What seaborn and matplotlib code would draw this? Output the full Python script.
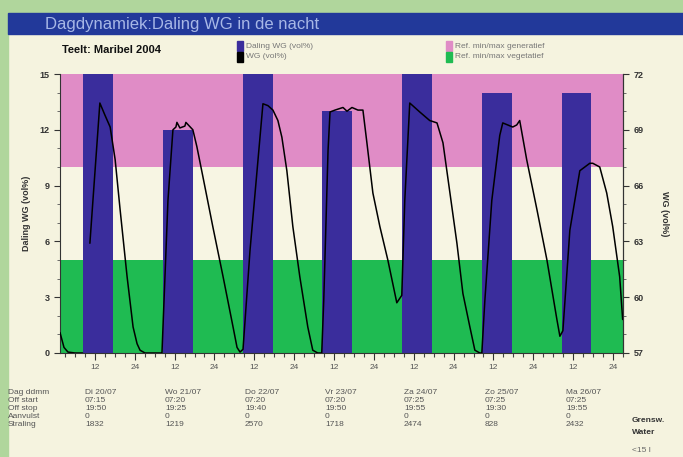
import numpy as np
import pandas as pd
import matplotlib
matplotlib.use("Agg")
import matplotlib.pyplot as plt
from matplotlib.patches import Rectangle
from matplotlib.ticker import MultipleLocator, FixedLocator
import seaborn as sns

# ---------------- data ----------------
bar_hours = [13, 37, 61, 85, 109, 133, 157]          # centre of each daily bar (hours)
bar_values = [15, 12, 15, 13, 15, 14, 14]             # Daling WG (vol%)

wg_hours = [1.5, 2.7, 3.9, 6.0, 8.3,
            10.5, 13.5, 15.0, 16.6, 18.1, 19.6, 21.7, 23.5, 24.7, 25.6, 27.1, 31.9,
            32.2, 34.0, 35.5, 36.4, 36.7, 37.6, 39.1, 39.4, 41.5, 42.7, 44.5, 47.5, 50.6, 53.6, 54.8, 55.7,
            56.6, 58.7, 62.6, 64.1, 65.6, 67.1, 68.3, 69.8, 71.6, 73.7, 76.1, 77.6, 79.1,
            80.3, 80.9, 82.2, 82.8, 84.3, 86.7, 87.9, 89.4, 91.2, 92.7,
            93.9, 95.7, 97.8, 100.2, 102.9,
            104.4, 105.3, 106.8, 109.8, 112.8, 115.0, 116.8, 118.9, 121.0, 122.8, 124.9, 126.4, 127.9,
            128.5, 129.4, 131.5, 133.9, 134.8, 136.3, 137.8, 139.0, 139.9,
            142.0, 145.1, 148.1, 151.1, 152.0,
            152.9, 155.0, 158.0, 161.0, 161.9, 164.0, 166.1, 167.9, 170.0, 170.9]
wg_values = [58.1, 57.3, 57.05, 57.0, 57.0,
             62.9, 70.44, 69.8, 69.15, 67.4, 64.7, 61.1, 58.4, 57.5, 57.15, 57.0, 57.0,
             57.0, 65.2, 69.0, 69.15, 69.4, 69.1, 69.2, 69.4, 69.0, 68.1, 66.5, 63.8, 61.1, 58.4, 57.3, 57.05,
             57.2, 62.5, 70.4, 70.3, 70.06, 69.5, 68.6, 66.8, 63.8, 61.1, 58.4, 57.15, 57.0,
             57.0, 59.8, 67.9, 69.96, 70.06, 70.2, 70.0, 70.2, 70.06, 70.06,
             68.3, 65.6, 63.8, 62.0, 59.7,
             60.1, 65.2, 70.44, 69.96, 69.5, 69.37, 68.3, 65.6, 62.9, 60.2, 58.4, 57.15, 57.0,
             57.0, 59.8, 65.2, 68.7, 69.37, 69.26, 69.15, 69.26, 69.5,
             67.4, 64.7, 62.0, 58.8, 57.9,
             58.2, 63.6, 66.8, 67.2, 67.2, 67.0, 65.6, 63.8, 61.1, 58.8]
wg_segment = [1] * 5 + [2] * (len(wg_hours) - 5)

x_tick_hours = [12 + 12 * i for i in range(14)]
x_tick_labels = ["12", "24"] * 7

table_rows = ["Dag ddmm", "Off start", "Off stop", "Aanvulst", "Straling"]
table_days = ["Di 20/07", "Wo 21/07", "Do 22/07", "Vr 23/07", "Za 24/07", "Zo 25/07", "Ma 26/07"]
table_off_start = ["07:15", "07:20", "07:20", "07:20", "07:25", "07:25", "07:25"]
table_off_stop = ["19:50", "19:25", "19:40", "19:50", "19:55", "19:30", "19:55"]
table_aanvulst = ["0", "0", "0", "0", "0", "0", "0"]
table_straling = ["1832", "1219", "2570", "1718", "2474", "828", "2432"]

# ---------------- style ----------------
sns.set_theme(style="white")
plt.rcParams["font.family"] = ["Liberation Sans", "DejaVu Sans"]

W, H = 683, 457
fig = plt.figure(figsize=(W / 100, H / 100), dpi=100)
fig.patch.set_facecolor("#f5f3df")

def fx(x):
    return x / W

def fy(y):
    return 1 - y / H

# green border and title bar
fig.patches.append(Rectangle((0, fy(13)), 1, 13 / H, transform=fig.transFigure,
                             color="#b0d69c", zorder=0))
fig.patches.append(Rectangle((0, 0), fx(8), 1, transform=fig.transFigure,
                             color="#b0d69c", zorder=0))
fig.patches.append(Rectangle((fx(8), fy(34)), 1, 21 / H, transform=fig.transFigure,
                             color="#22399a", zorder=0))
fig.text(fx(45), fy(24), "Dagdynamiek:Daling WG in de nacht", color="#a7b7e6",
         fontsize=12, va="center", ha="left")

BLUE = "#3a2d9c"
PINK = "#e08cc6"
GREEN = "#1fbb52"
CREAM = "#f7f5e3"

ax = fig.add_axes([fx(60), fy(353), fx(623) - fx(60), (353 - 74) / H])
ax.set_facecolor(CREAM)
ax.axhspan(10, 15, color=PINK, zorder=0, lw=0)
ax.axhspan(0, 5, color=GREEN, zorder=0, lw=0)

bars = pd.DataFrame({"hour": bar_hours, "daling": bar_values})
sns.barplot(data=bars, x="hour", y="daling", native_scale=True, width=9 / 24,
            color=BLUE, saturation=1, edgecolor="none", linewidth=0, ax=ax, zorder=2)

ax.set_xlim(1.5, 171)
ax.set_ylim(0, 15)
ax.set_xlabel("")
ax.set_ylabel("Daling WG (vol%)", fontsize=6.5, fontweight="bold", color="#333333", labelpad=6)
ax.yaxis.set_major_locator(FixedLocator([0, 3, 6, 9, 12, 15]))
ax.yaxis.set_minor_locator(MultipleLocator(1))
ax.xaxis.set_major_locator(FixedLocator(x_tick_hours))
ax.set_xticklabels(x_tick_labels)
ax.xaxis.set_minor_locator(MultipleLocator(3))
ax.tick_params(axis="x", which="major", length=5, width=0.8, color="#333333",
               labelsize=6, labelcolor="#555555", pad=3, direction="out", bottom=True)
ax.tick_params(axis="x", which="minor", length=3, width=0.8, color="#444444",
               direction="out", bottom=True)
ax.tick_params(axis="y", which="major", length=4, width=0.8, color="#333333",
               labelsize=6.5, labelcolor="#333333", direction="out", left=True)
ax.tick_params(axis="y", which="minor", length=2, width=0.6, color="#555555",
               direction="out", left=True)
for lbl in ax.get_yticklabels():
    lbl.set_fontweight("bold")
for s in ["top"]:
    ax.spines[s].set_visible(False)
for s in ["left", "bottom", "right"]:
    ax.spines[s].set_color("#333333")
    ax.spines[s].set_linewidth(0.8)

ax2 = ax.twinx()
line = pd.DataFrame({"hour": wg_hours, "wg": wg_values, "seg": wg_segment})
sns.lineplot(data=line, x="hour", y="wg", units="seg", estimator=None,
             color="black", linewidth=1.1, ax=ax2, legend=False)
ax2.set_ylim(57, 72)
ax2.set_xlim(1.5, 171)
ax2.set_xlabel("")
ax2.yaxis.set_major_locator(FixedLocator([57, 60, 63, 66, 69, 72]))
ax2.yaxis.set_minor_locator(MultipleLocator(1))
ax2.tick_params(axis="y", which="major", length=4, width=0.8, color="#333333",
                labelsize=6.5, labelcolor="#333333", direction="out", right=True)
ax2.tick_params(axis="y", which="minor", length=2, width=0.6, color="#555555",
                direction="out", right=True)
for lbl in ax2.get_yticklabels():
    lbl.set_fontweight("bold")
ax2.set_ylabel("WG (vol%)", fontsize=6.5, fontweight="bold", color="#333333",
               rotation=270, labelpad=18)
for s in ["top", "left", "bottom"]:
    ax2.spines[s].set_visible(False)
ax2.spines["right"].set_color("#333333")
ax2.spines["right"].set_linewidth(0.8)

# header: crop and legend
fig.text(fx(62), fy(50), "Teelt: Maribel 2004", fontsize=8, fontweight="bold",
         color="#111111", va="center")
legend_items = [(237, 46, BLUE, "Daling WG (vol%)"), (237, 57, "black", "WG (vol%)"),
                (446, 46, PINK, "Ref. min/max generatief"), (446, 57, GREEN, "Ref. min/max vegetatief")]
for x, y, c, t in legend_items:
    fig.patches.append(Rectangle((fx(x), fy(y + 4.5)), 6 / W, 9 / H, transform=fig.transFigure,
                                 color=c, zorder=3))
    fig.text(fx(x + 9), fy(y), t, fontsize=6, color="#777777", va="center")

# table under the chart
row_y = [392, 400, 408, 416, 424]
col_x = [85, 165, 245, 325, 404, 485, 566]
table_values = [table_days, table_off_start, table_off_stop, table_aanvulst, table_straling]
for r, (name, vals) in enumerate(zip(table_rows, table_values)):
    fig.text(fx(8), fy(row_y[r]), name, fontsize=6, color="#555555", va="center")
    for c, v in enumerate(vals):
        fig.text(fx(col_x[c]), fy(row_y[r]), v, fontsize=6, color="#555555", va="center")

fig.text(fx(632), fy(420), "Grensw.", fontsize=6, fontweight="bold", color="#333333", va="center")
fig.text(fx(632), fy(433), "Water", fontsize=6, fontweight="bold", color="#333333", va="center")
fig.text(fx(632), fy(451), "<15 l", fontsize=6, color="#666666", va="center")

fig.savefig("out.png", dpi=100, facecolor=fig.get_facecolor())
